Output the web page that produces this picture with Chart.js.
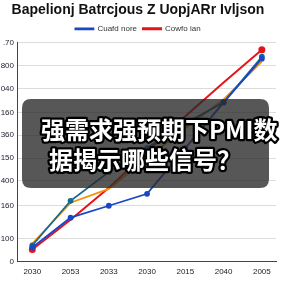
<!DOCTYPE html>
<html>
<head>
<meta charset="utf-8">
<script src="https://cdn.jsdelivr.net/npm/chart.js@4.4.1/dist/chart.umd.min.js"></script>
<style>
  html, body { margin: 0; padding: 0; background: #fff; }
  #wrap { width: 288px; height: 288px; }
</style>
</head>
<body>
<div id="wrap"><canvas id="chart" width="288" height="288"></canvas></div>
<script>
// categories on the x axis (as printed)
const years = ["2030", "2053", "2033", "2030", "2015", "2040", "2005"];

// y axis: tick positions and the (garbled) labels printed on them
const yTickValues = [0, 23, 56, 81, 104, 127, 150, 174, 197, 220];
const yTickLabels = ["0", "100", "160", "400", "150", "360", "160", "040", "800", ".70"];

// series values
const blueVals   = [14, 44, 56, 68, 114, 160, 204];
const tealVals   = [16, 61, 90, 114, 139, 160, 206];
const orangeVals = [18, 59, 73, 104, 134, 163, 201];
const redVals    = [12, 42, 74, 110, 146, 180, 213];

const seriesNames = ["Cuafd nore", "Teal", "Orange", "Cowfo ian"];

function toPoints(arr) {
  return arr.map((v, i) => ({ x: i, y: v }));
}

// dark caption box drawn over the plot
const overlayPlugin = {
  id: "overlay",
  afterDraw(chart) {
    const c = chart.ctx;
    c.save();
    const x = 22, y = 99, w = 247, h = 89, r = 9;
    c.beginPath();
    c.moveTo(x + r, y);
    c.lineTo(x + w - r, y);
    c.quadraticCurveTo(x + w, y, x + w, y + r);
    c.lineTo(x + w, y + h - r);
    c.quadraticCurveTo(x + w, y + h, x + w - r, y + h);
    c.lineTo(x + r, y + h);
    c.quadraticCurveTo(x, y + h, x, y + h - r);
    c.lineTo(x, y + r);
    c.quadraticCurveTo(x, y, x + r, y);
    c.closePath();
    c.fillStyle = "rgba(40,40,40,0.78)";
    c.fill();

    c.font = "bold 24px 'Noto Sans CJK SC'";
    c.textBaseline = "middle";
    c.textAlign = "left";
    c.lineJoin = "round";
    c.lineWidth = 4.5;
    c.strokeStyle = "#000";
    c.fillStyle = "#fff";
    const lines = [["强需求强预期下PMI数", 41, 130], ["据揭示哪些信号？", 49, 160]];
    lines.forEach(([t, tx, ty]) => {
      c.strokeText(t, tx, ty);
      c.fillText(t, tx, ty);
    });
    c.restore();
  }
};

new Chart(document.getElementById("chart"), {
  type: "line",
  data: {
    datasets: [
      {
        label: seriesNames[0],
        data: toPoints(blueVals),
        borderColor: "#1b47c6",
        backgroundColor: "#1b47c6",
        borderWidth: 1.8,
        pointRadius: 2,
      },
      {
        label: seriesNames[1],
        data: toPoints(tealVals),
        borderColor: "#136a92",
        backgroundColor: "#136a92",
        borderWidth: 1.8,
        pointRadius: 2,
      },
      {
        label: seriesNames[2],
        data: toPoints(orangeVals),
        borderColor: "#f5920c",
        backgroundColor: "#f5920c",
        borderWidth: 1.8,
        pointRadius: 0,
      },
      {
        label: seriesNames[3],
        data: toPoints(redVals),
        borderColor: "#e5141a",
        backgroundColor: "#e5141a",
        borderWidth: 2,
        pointRadius: [2.5, 0, 0, 0, 0, 0, 2.5],
      },
    ],
  },
  options: {
    responsive: false,
    animation: false,
    layout: { padding: { right: 12, left: 0, bottom: 5 } },
    plugins: {
      title: {
        display: true,
        text: "Bapelionj Batrcjous Z UopjARr Ivljson",
        color: "#111",
        font: { size: 14, weight: "bold", family: "Arial, 'Liberation Sans'" },
        padding: { top: 2, bottom: 0 },
      },
      legend: {
        display: true,
        labels: {
          filter: (item) => item.datasetIndex === 0 || item.datasetIndex === 3,
          boxWidth: 18,
          boxHeight: 1,
          font: { size: 8, family: "Arial, 'Liberation Sans'" },
          color: "#333",
          padding: 6,
        },
      },
      tooltip: { enabled: false },
    },
    scales: {
      x: {
        type: "linear",
        min: -0.4,
        max: 6.37,
        afterBuildTicks: (scale) => {
          scale.ticks = years.map((_, i) => ({ value: i }));
        },
        ticks: {
          callback: (value, index) => years[index],
          font: { size: 8, family: "Arial, 'Liberation Sans'" },
          color: "#222",
          maxRotation: 0,
          padding: 6,
        },
        grid: { display: false, drawTicks: false },
        border: { color: "#444" },
      },
      y: {
        min: 0,
        max: 220,
        afterBuildTicks: (scale) => {
          scale.ticks = yTickValues.map((v) => ({ value: v }));
        },
        afterFit: (scale) => { scale.width = 17; },
        ticks: {
          callback: (value, index) => yTickLabels[index],
          font: { size: 8, family: "Arial, 'Liberation Sans'" },
          color: "#223",
          padding: 3,
        },
        grid: { color: "#dcdcdc", drawTicks: false },
        border: { color: "#444" },
      },
    },
  },
  plugins: [overlayPlugin],
});
</script>
</body>
</html>
